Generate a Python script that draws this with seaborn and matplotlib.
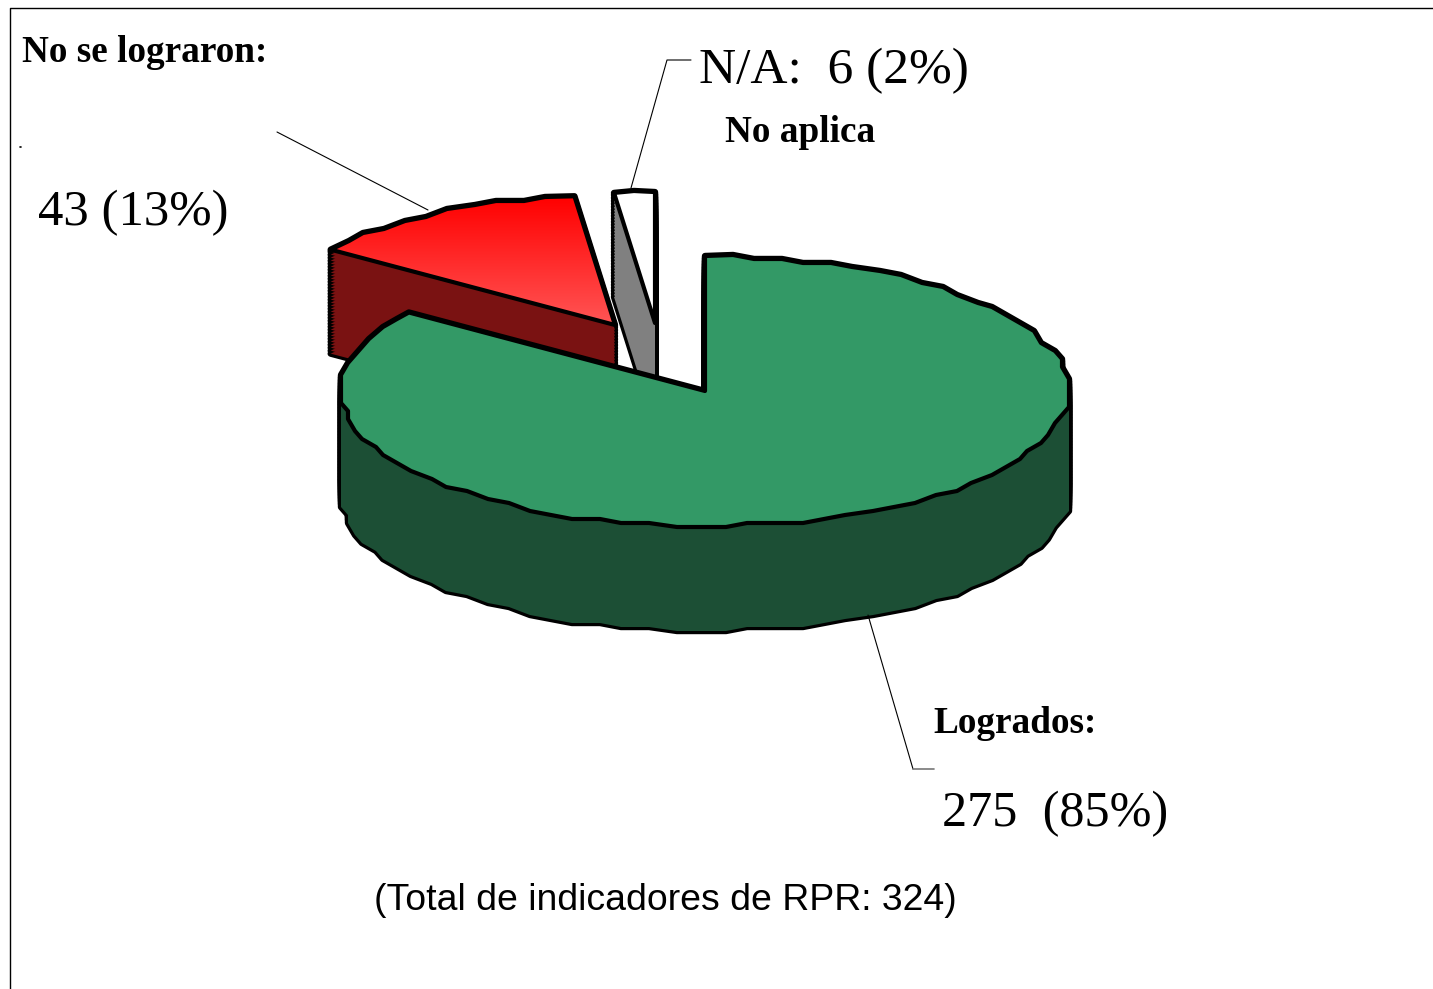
# Pastel 3D de indicadores de RPR
import numpy as np
import matplotlib
matplotlib.use('Agg')
import matplotlib.pyplot as plt
import seaborn as sns
from matplotlib.colors import LinearSegmentedColormap
from matplotlib.lines import Line2D
from matplotlib.patches import Polygon

# Datos
categorias = ['Logrados', 'No se lograron', 'N/A']
valores = [275, 43, 6]
color_tapa = ['#339966', '#ff3030', '#ffffff']
color_lado = ['#1c4f35', '#7a1212', '#808080']

W, H = 1433, 989
CX, CY = 705, 391      # centro del pastel en pixeles
RX, RY = 364, 135      # radios de la elipse
PROF = 104             # profundidad del cilindro
LW = 3.0
GX, GY = 7, 4          # rejilla del borde dentado

# Desplazamiento y radio de cada porcion
despl = [(0, 0), (-90, -66), (-50, -68)]
radios = [1.0, 0.96, 0.97]
zbase = [30, 20, 10]

sns.set_theme(style='white')
plt.rcParams['font.family'] = ['Liberation Serif', 'DejaVu Sans']

fig = plt.figure(figsize=(W / 100, H / 100), dpi=100)
ax = fig.add_axes([0, 0, 1, 1])

# El pie da los angulos de cada porcion; el borde se redibuja dentado
wedges, _ = ax.pie(valores, startangle=90, counterclock=False)
angulos = [(w.theta1, w.theta2) for w in wedges]
for w in wedges:
    w.remove()


def forma(i, dy_px=0):
    t1, t2 = angulos[i]
    t = np.deg2rad(np.linspace(t1, t2, max(3, int((t2 - t1) / 4) + 1)))
    px = radios[i] * RX * np.cos(t)
    py = radios[i] * RY * np.sin(t)
    px[1:-1] = np.round(px[1:-1] / GX) * GX
    py[1:-1] = np.round(py[1:-1] / GY) * GY
    xs = np.r_[0, px] + despl[i][0]
    ys = np.r_[0, py] - despl[i][1] - dy_px
    return np.column_stack([xs / RX, ys / RY])


def capa(dy_px, caras, borde, lw, z):
    salida = []
    for i in range(len(valores)):
        p = Polygon(forma(i, dy_px), closed=True, facecolor=caras[i], edgecolor=borde,
                    linewidth=lw, joinstyle='round', zorder=zbase[i] + z)
        ax.add_patch(p)
        salida.append(p)
    return salida


# Lados: primero la silueta negra, luego el relleno oscuro encima
pasos = list(range(PROF, -1, -3)) + [0]
for p in pasos:
    capa(p, color_lado, 'black', 4.6, 0.1)
for p in pasos:
    capa(p, color_lado, 'none', 0, 0.2)

# Cara lateral de la porcion roja con degradado vertical
f_rojo = forma(1)
ap, vx = f_rojo[0], f_rojo[1]
prof = PROF / RY
quad = Polygon([ap, vx, vx - [0, prof], ap - [0, prof]], closed=True,
               fill=False, edgecolor='none')
ax.add_patch(quad)
cm_lado = LinearSegmentedColormap.from_list('lado', ['#860000', '#6b1c1c'])
im = ax.imshow(np.linspace(0, 1, 128).reshape(-1, 1), cmap=cm_lado, aspect='auto',
               extent=(vx[0], ap[0], vx[1] - prof * 1.15, vx[1]), origin='upper', zorder=20.25)
im.set_clip_path(quad)

# Tapa superior
tapas = capa(0, color_tapa, 'black', LW, 1.0)
cm_tapa = LinearSegmentedColormap.from_list('tapa', ['#ff0000', '#ff5555'])
im2 = ax.imshow(np.linspace(0, 1, 128).reshape(-1, 1), cmap=cm_tapa, aspect='auto',
                extent=(f_rojo[:, 0].min(), f_rojo[:, 0].max(), ap[1], f_rojo[:, 1].max()),
                origin='upper', zorder=21.05)
im2.set_clip_path(tapas[1])
tapas[1].set_facecolor('none')
tapas[1].set_zorder(21.1)

ax.set_aspect('auto')
ax.set_xlim((0 - CX) / RX, (W - CX) / RX)
ax.set_ylim((CY - H) / RY, CY / RY)
ax.axis('off')


def fx(x):
    return x / W


def fy(y):
    return 1 - y / H


def linea(xs, ys, color='black', lw=0.8):
    fig.add_artist(Line2D([fx(x) for x in xs], [fy(y) for y in ys], color=color, lw=lw, zorder=5))


# Marco y lineas guia
linea([10, 10, W], [H, 8, 8], lw=1.0)
linea([277, 428], [132, 210])
linea([691, 667, 631], [60, 60, 188])
linea([868, 913], [615, 769])
linea([913, 934], [769, 769], color='#777777', lw=1.2)
linea([20, 21], [147, 147], lw=1.2)


# Textos
def rotulo(x, y, txt, size, bold=False, familia='Liberation Serif'):
    fig.text(fx(x), fy(y), txt, fontsize=size, fontweight='bold' if bold else 'normal',
             family=familia, color='black', ha='left', va='baseline')


rotulo(22, 62, 'No se lograron:', 26.8, True)
rotulo(725, 142, 'No aplica', 26.8, True)
rotulo(933, 733, 'Logrados:', 26.8, True)
rotulo(699, 83, 'N/A:  6 (2%)', 37)
rotulo(38, 225, '43 (13%)', 36.5)
rotulo(942, 826, '275  (85%)', 36.2)
rotulo(374, 910, '(Total de indicadores de RPR: 324)', 26.9, familia='Liberation Sans')

fig.savefig('out.png', dpi=100, facecolor='white')
